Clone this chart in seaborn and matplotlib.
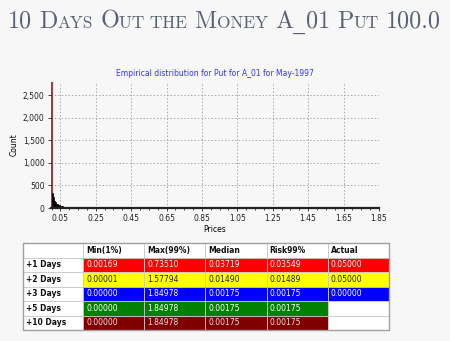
import matplotlib
matplotlib.use("Agg")
import matplotlib.pyplot as plt
import numpy as np
import pandas as pd
import seaborn as sns
from matplotlib.ticker import FuncFormatter, MultipleLocator

# ---------------- data ----------------
bin_width = 0.005
counts = [3200, 330, 250, 160, 130, 100, 85, 70, 60, 52, 45, 40, 34, 28, 24, 20,
          17, 14, 12, 10, 9, 8, 7, 6, 5, 5, 4, 4, 3, 3, 2, 2, 2, 1, 1, 1]
x_ticks = [0.05, 0.25, 0.45, 0.65, 0.85, 1.05, 1.25, 1.45, 1.65, 1.85]
y_ticks = [0, 500, 1000, 1500, 2000, 2500]

col_labels = ["", "Min(1%)", "Max(99%)", "Median", "Risk99%", "Actual"]
row_labels = ["+1 Days", "+2 Days", "+3 Days", "+5 Days", "+10 Days"]
min1 = ["0.00169", "0.00001", "0.00000", "0.00000", "0.00000"]
max99 = ["0.73510", "1.57794", "1.84978", "1.84978", "1.84978"]
median = ["0.03719", "0.01490", "0.00175", "0.00175", "0.00175"]
risk99 = ["0.03549", "0.01489", "0.00175", "0.00175", "0.00175"]
actual = ["0.05000", "0.05000", "0.00000", "", ""]
row_colors = ["#ff0000", "#ffff00", "#0000ff", "#008000", "#800000"]
row_text = ["white", "#202020", "white", "white", "#f0e0e0"]

title_pieces = [("10 ", "L"), ("D", "L"), ("AYS ", "S"), ("O", "L"), ("UT THE ", "S"),
                ("M", "L"), ("ONEY ", "S"), ("A", "L"), ("_", "U"), ("01 ", "L"),
                ("P", "L"), ("UT ", "S"), ("100.0", "L")]
subtitle = "Empirical distribution for Put for A_01 for May-1997"

# ---------------- figure ----------------
BG = "#f7f7f7"
fig = plt.figure(figsize=(4.5, 3.41), dpi=100, facecolor=BG)

ax = fig.add_axes([0.113, 0.39, 0.729, 0.37])
ax.set_facecolor(BG)

centers = np.arange(len(counts)) * bin_width + bin_width / 2
df = pd.DataFrame({"price": centers, "count": np.asarray(counts, dtype=float)})
sns.histplot(data=df, x="price", weights="count", binwidth=bin_width,
             binrange=(0, len(counts) * bin_width), ax=ax,
             color="black", edgecolor="black", linewidth=0.5, alpha=1.0)
if ax.patches:
    ax.patches[0].set_facecolor("#1a0000")
    ax.patches[0].set_edgecolor("#8b0000")
    ax.patches[0].set_linewidth(1.1)

ax.set_xlim(-0.004, 1.85)
ax.set_ylim(0, 2800)
ax.set_xticks(x_ticks)
ax.set_xticklabels([f"{v:.2f}" for v in x_ticks])
ax.xaxis.set_minor_locator(MultipleLocator(0.05))
ax.set_yticks(y_ticks)
ax.yaxis.set_major_formatter(FuncFormatter(lambda v, p: f"{int(v):,}"))
ax.tick_params(axis="both", labelsize=5.5, colors="#222222", length=2.5, width=0.6, pad=2)
ax.tick_params(axis="x", which="minor", length=1.5, width=0.5)
ax.grid(True, linestyle=(0, (1.5, 2)), color="#a8a8a8", linewidth=0.7)
ax.set_axisbelow(True)
for s in ["top", "right", "left"]:
    ax.spines[s].set_visible(False)
ax.spines["bottom"].set_linewidth(1.6)
ax.spines["bottom"].set_color("#222222")
ax.set_xlabel("Prices", fontsize=5.5, labelpad=1)
ax.set_ylabel("Count", fontsize=5.5, labelpad=3)
ax.set_title(subtitle, fontsize=5.5, color="#3333ff", pad=4)

# ---------------- table ----------------
cell_text = []
cell_colours = []
for i, r in enumerate(row_labels):
    vals = [min1[i], max99[i], median[i], risk99[i], actual[i]]
    cell_text.append([r] + vals)
    cols = ["white"] + [row_colors[i]] * 4 + [row_colors[i] if actual[i] else "white"]
    cell_colours.append(cols)

tax = fig.add_axes([0.051, 0.032, 0.813, 0.255])
tax.axis("off")
tbl = tax.table(cellText=[col_labels] + cell_text,
                cellColours=[["white"] * 6] + cell_colours,
                cellLoc="left", bbox=[0, 0, 1, 1],
                colWidths=[60, 61, 61, 61, 61, 61])
tbl.auto_set_font_size(False)
for (r, c), cell in tbl.get_celld().items():
    cell.set_edgecolor("#c8c8c8")
    cell.set_linewidth(0.6)
    cell.PAD = 0.05
    txt = cell.get_text()
    txt.set_fontsize(5.5)
    if r == 0 or c == 0:
        txt.set_fontweight("bold")
        txt.set_color("#111111")
    else:
        if c == 5 and not actual[r - 1]:
            txt.set_color("#111111")
        else:
            txt.set_color(row_text[r - 1])
tax.add_patch(plt.Rectangle((0, 0), 1, 1, transform=tax.transAxes, fill=False,
                            edgecolor="#a0a0a0", linewidth=1.0, clip_on=False))

# ---------------- small-caps title ----------------
renderer = fig.canvas.get_renderer()
sizes = {"L": 17.4, "S": 12.4, "U": 17.4}
x_px = 8
baseline_px = 341 - 28
for text, kind in title_pieces:
    fam = "DejaVu Serif" if kind == "U" else "cmr10"
    t = fig.text(x_px / 450, baseline_px / 341, text.rstrip(" "), fontsize=sizes[kind],
                 family=fam, color="#5a6170", va="baseline", ha="left")
    bb = t.get_window_extent(renderer)
    x_px = bb.x1 + (7.0 if text.endswith(" ") else 0.3)

fig.savefig("out.png", dpi=100, facecolor=BG)
